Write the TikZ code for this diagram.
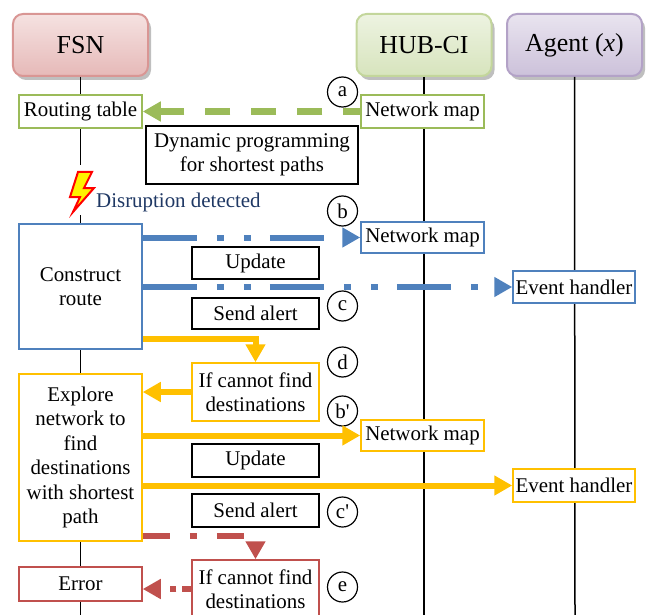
\documentclass[tikz,border=0pt]{standalone}
\usepackage{fontspec}
\setmainfont{Liberation Serif}
\usetikzlibrary{arrows.meta,shadows}
\definecolor{grn}{HTML}{9BBB59}
\definecolor{blu}{HTML}{4F81BD}
\definecolor{ylw}{HTML}{FFC000}
\definecolor{rd}{HTML}{C0504D}
\definecolor{dark}{HTML}{1F3864}
\definecolor{fsnline}{HTML}{D99694}
\definecolor{fsntop}{HTML}{F5E2E1}
\definecolor{fsnbot}{HTML}{E6B9B8}
\definecolor{hubline}{HTML}{C3D69B}
\definecolor{hubtop}{HTML}{EDF3E1}
\definecolor{hubbot}{HTML}{D7E4BD}
\definecolor{agtline}{HTML}{B3A2C7}
\definecolor{agttop}{HTML}{E9E4EF}
\definecolor{agtbot}{HTML}{CCC1DA}

\begin{document}
\begin{tikzpicture}[x=1bp,y=-1bp,
    txt/.style={font=\fontsize{21}{24.5}\selectfont},
    head/.style={rounded corners=10bp, minimum width=135bp, minimum height=62bp,
        line width=2bp, font=\fontsize{26}{30}\selectfont,
        drop shadow={shadow xshift=3bp, shadow yshift=-4bp, opacity=.5}},
    box/.style={txt, draw, fill=white, line width=1.5bp, inner sep=1bp,
        minimum width=123bp, minimum height=32bp, align=center},
    lbl/.style={box, line width=2bp, minimum width=127bp},
    tag/.style={txt, circle, draw, line width=1.2bp, minimum size=30bp, inner sep=0pt},
    life/.style={line width=1.5bp},
    tip/.style={-{Triangle[length=18bp,width=19bp]}},
    grnarr/.style={tip, draw=grn, line width=7bp, dash pattern=on 25bp off 21bp, dash phase=8bp},
    bluarr/.style={tip, draw=blu, line width=6bp,
        dash pattern=on 54bp off 20bp on 7bp off 20bp on 7bp off 19bp},
    ylwarr/.style={tip, draw=ylw, line width=6bp},
    rdarr/.style={tip, draw=rd, line width=6bp, dash pattern=on 27bp off 20bp on 7bp off 20bp}]
    \useasboundingbox (0,0) rectangle (648,615);
    \node[head, draw=fsnline, top color=fsntop, bottom color=fsnbot] (fsn) at (80.5,45) {FSN};
    \node[head, draw=hubline, top color=hubtop, bottom color=hubbot] (hub) at (424,45) {HUB-CI};
    \node[head, draw=agtline, top color=agttop, bottom color=agtbot] (agt) at (574.5,45) {Agent (\textit{x})};
    \coordinate (fsnbrk) at (80.5,165);
    \coordinate (fsnres) at (80.5,215);
    \coordinate (fsnend) at (80.5,615);
    \coordinate (hubend) at (424,615);
    \coordinate (agtend) at (575,615);
    \draw[life] (fsn.south) -- (fsnbrk);
    \draw[life] (fsnres) -- (fsnend);
    \draw[life] (hub.south) -- (hubend);
    \draw[life] (agt.south) -- (agtend);
    \node[box, draw=grn, minimum height=33bp] (rt) at (80.5,111.5) {Routing table};
    \node[box, draw=grn, minimum height=33bp] (nm1) at (422.5,111.5) {Network map};
    \node[lbl, minimum width=212bp, minimum height=58bp] (dp) at (252,155) {Dynamic programming\\for shortest paths};
    \draw[fill=yellow, draw=red, line width=2bp] (78,172) -- (92,172) -- (84,188) -- (94,188)
        -- (73,212) -- (80,197) -- (70,197) -- cycle;
    \node[txt, text=dark, anchor=west, inner sep=0pt] (dis) at (96,202) {Disruption detected};
    \node[box, draw=blu, minimum height=125bp] (cr) at (80.5,286.5) {Construct\\route};
    \node[box, draw=blu, minimum height=31bp] (nm2) at (422.5,237.5) {Network map};
    \node[lbl] (up1) at (255.5,263) {Update};
    \node[box, draw=blu, minimum width=122bp] (eh1) at (574,287) {Event handler};
    \node[lbl, minimum height=31bp] (sa1) at (255.5,313.5) {Send alert};
    \node[box, draw=ylw, minimum width=127bp, minimum height=58bp] (if1) at (255.5,392) {If cannot find\\destinations};
    \node[box, draw=ylw, minimum height=167bp] (ex) at (80.5,457.5) {Explore\\network to\\find\\destinations\\with shortest\\path};
    \node[box, draw=ylw, minimum height=31bp] (nm3) at (422.5,435.5) {Network map};
    \node[lbl, minimum height=33bp] (up2) at (255.5,460.5) {Update};
    \node[box, draw=ylw, minimum width=122bp, minimum height=33bp] (eh2) at (574,485.5) {Event handler};
    \node[lbl, minimum height=33bp] (sa2) at (255.5,510.5) {Send alert};
    \node[box, draw=rd, minimum width=127bp, minimum height=58bp] (if2) at (255.5,589) {If cannot find\\destinations};
    \node[box, draw=rd, minimum height=34bp] (err) at (80.5,584) {Error};
    \node[tag] (ta) at (342.5,92) {a};
    \node[tag] (tb) at (342.5,211) {b};
    \node[tag] (tc) at (342.5,306) {c};
    \node[tag] (td) at (342.5,362) {d};
    \node[tag] (tb2) at (342.5,411) {b\textquotesingle};
    \node[tag] (tc2) at (342.5,512) {c\textquotesingle};
    \node[tag] (te) at (342.5,587) {e};
    \draw[grnarr] (nm1.west) -- (rt.east);
    \draw[bluarr] (cr.east |- nm2.west) -- (nm2.west);
    \draw[bluarr] (cr.east |- eh1.west) -- (eh1.west);
    \draw[ylwarr] ([yshift=11bp]cr.south east) -| (if1.north);
    \draw[ylwarr] (if1.west) -- (if1.west -| ex.east);
    \draw[ylwarr] (ex.east |- nm3.west) -- (nm3.west);
    \draw[ylwarr] (ex.east |- eh2.west) -- (eh2.west);
    \draw[rdarr] ([yshift=6bp]ex.south east) -| (if2.north);
    \draw[rdarr, dash pattern=on 9bp off 6bp on 6bp off 30bp] (if2.west) -- (if2.west -| err.east);
\end{tikzpicture}
\end{document}
